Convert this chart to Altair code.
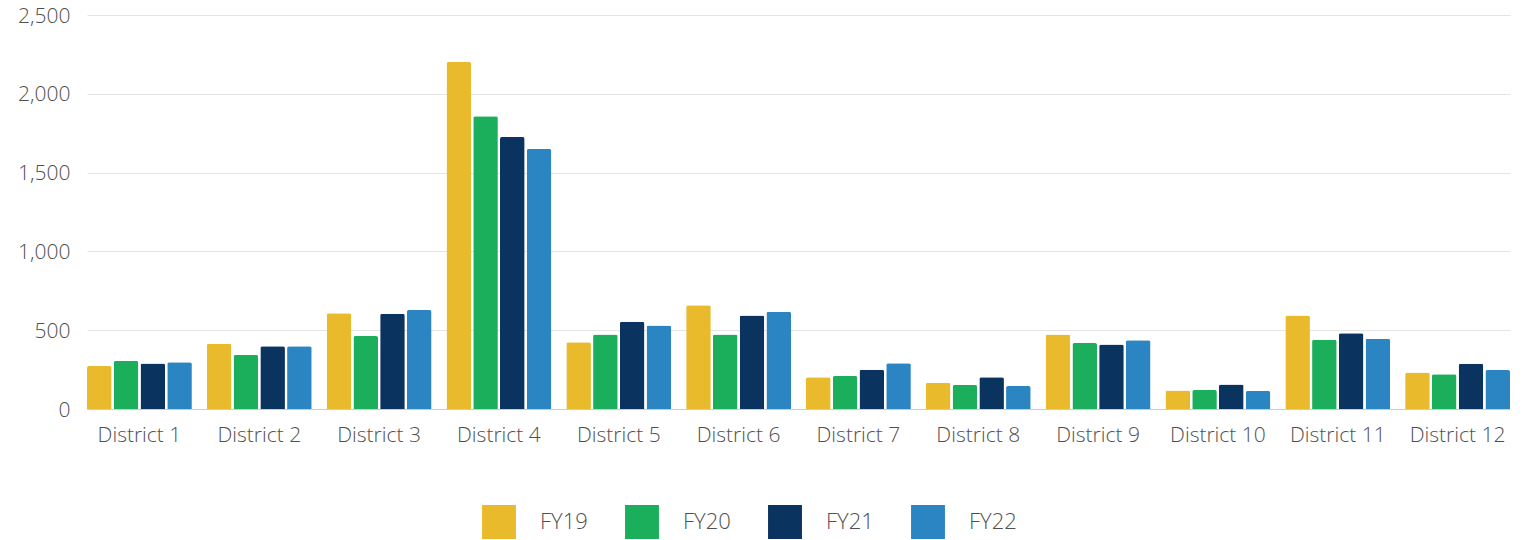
import altair as alt
import pandas as pd

districts = ["District 1", "District 2", "District 3", "District 4", "District 5", "District 6",
             "District 7", "District 8", "District 9", "District 10", "District 11", "District 12"]
years = ["FY19", "FY20", "FY21", "FY22"]
fy19 = [273, 414, 607, 2201, 423, 659, 201, 167, 473, 118, 594, 232]
fy20 = [305, 343, 463, 1857, 473, 473, 209, 152, 418, 120, 439, 220]
fy21 = [288, 398, 605, 1726, 553, 594, 249, 201, 410, 156, 480, 287]
fy22 = [296, 398, 628, 1650, 530, 617, 290, 146, 437, 114, 446, 247]
colors = ["#E9BA2B", "#1BAF5C", "#0A3360", "#2A85C2"]

rows = []
for yr, vals in zip(years, [fy19, fy20, fy21, fy22]):
    for d, v in zip(districts, vals):
        rows.append({"District": d, "FY": yr, "Value": v})
df = pd.DataFrame(rows)

FONT = "Open Sans"
TXT = "#4f4f4f"

chart = alt.Chart(df).mark_bar(cornerRadiusTopLeft=2, cornerRadiusTopRight=2).encode(
    x=alt.X("District:N", sort=districts, title=None,
            scale=alt.Scale(paddingInner=0.125, paddingOuter=0),
            axis=alt.Axis(labelAngle=0, ticks=False, labelPadding=15, labelFontSize=21,
                          labelColor=TXT, labelFont=FONT, labelFontWeight=300,
                          domainColor="#cccccc", grid=False)),
    xOffset=alt.XOffset("FY:N", sort=years, scale=alt.Scale(paddingInner=0.08, paddingOuter=0)),
    y=alt.Y("Value:Q", title=None,
            scale=alt.Scale(domain=[0, 2500], nice=False),
            axis=alt.Axis(values=[0, 500, 1000, 1500, 2000, 2500], format=",.0f", ticks=False,
                          domain=False, labelPadding=17, labelFontSize=21, labelColor=TXT,
                          labelOffset=1, labelFont=FONT, labelFontWeight=300,
                          gridColor="#e4e4e4", gridWidth=1)),
    color=alt.Color("FY:N", sort=years, title=None,
                    scale=alt.Scale(domain=years, range=colors),
                    legend=alt.Legend(orient="none", direction="horizontal", legendX=395,
                                      legendY=490, symbolType="square", symbolSize=1150,
                                      symbolStrokeWidth=0, symbolOpacity=1, labelFontSize=22,
                                      labelFont=FONT, labelFontWeight=300, labelColor=TXT,
                                      labelOffset=24, columnPadding=37, padding=0)),
).properties(
    width=1423,
    height=394,
    autosize="none",
    padding={"left": 79, "top": 7, "right": 7, "bottom": 131},
).configure_view(stroke=None)

chart.save("out.html", embed_options={"renderer": "svg", "actions": False})
